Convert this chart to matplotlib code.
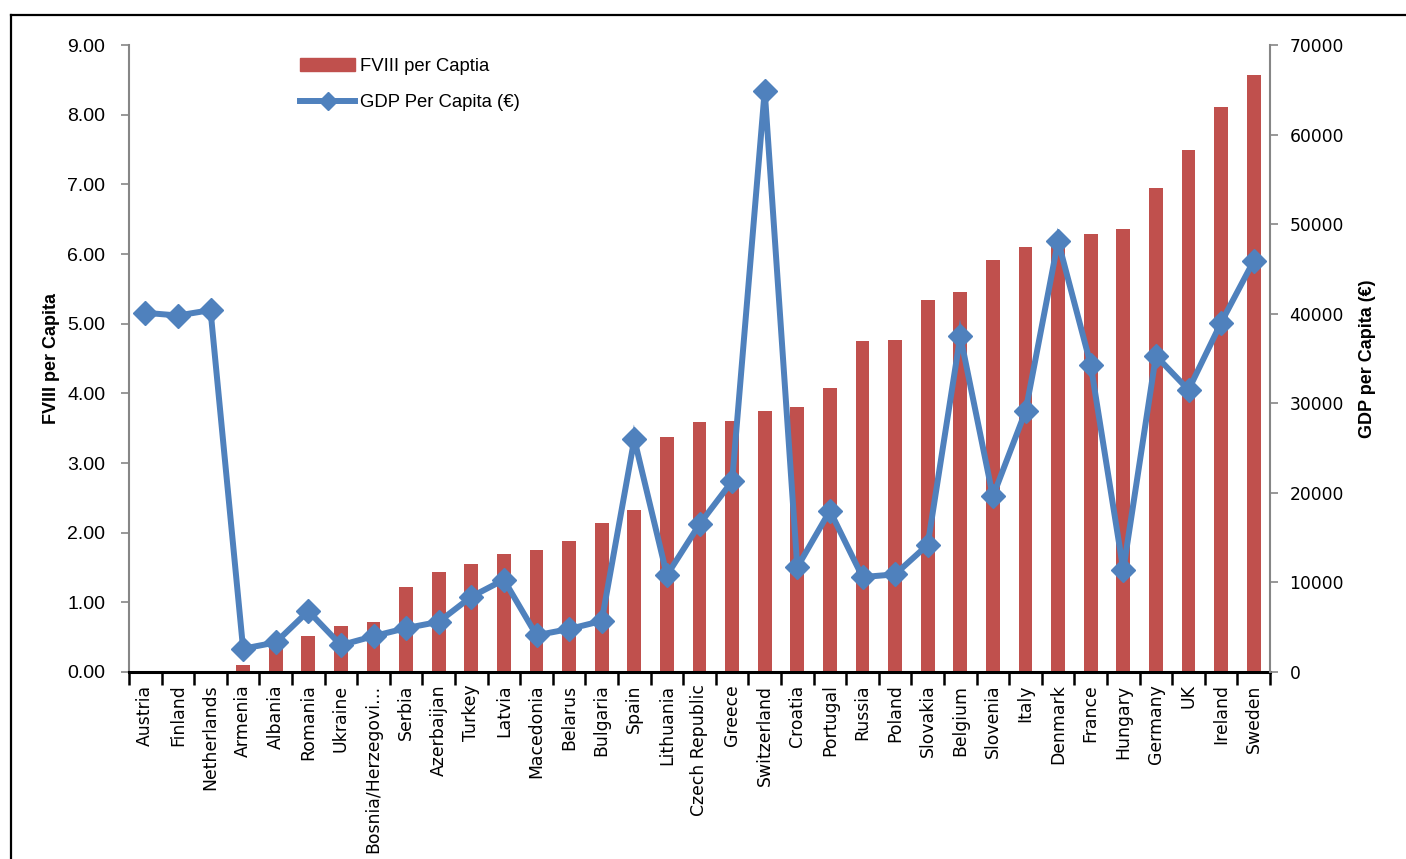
import matplotlib
matplotlib.use("Agg")
import matplotlib.pyplot as plt
from matplotlib.lines import Line2D
from matplotlib.patches import Patch
import numpy as np

countries = ["Austria", "Finland", "Netherlands", "Armenia", "Albania", "Romania", "Ukraine",
             "Bosnia/Herzegovi…", "Serbia", "Azerbaijan", "Turkey", "Latvia", "Macedonia",
             "Belarus", "Bulgaria", "Spain", "Lithuania", "Czech Republic", "Greece",
             "Switzerland", "Croatia", "Portugal", "Russia", "Poland", "Slovakia", "Belgium",
             "Slovenia", "Italy", "Denmark", "France", "Hungary", "Germany", "UK", "Ireland", "Sweden"]
fviii = [0, 0, 0, 0.10, 0.45, 0.52, 0.66, 0.72, 1.22, 1.44, 1.55, 1.69, 1.75, 1.88, 2.14, 2.33,
         3.37, 3.59, 3.60, 3.75, 3.80, 4.08, 4.75, 4.77, 5.34, 5.45, 5.91, 6.10, 6.20, 6.29,
         6.36, 6.95, 7.49, 8.11, 8.57]
gdp = [40100, 39800, 40400, 2600, 3300, 6800, 3000, 4000, 4900, 5600, 8400, 10300, 4100, 4800,
       5700, 26000, 10800, 16500, 21300, 64900, 11700, 18000, 10600, 10900, 14200, 37500, 19600,
       29100, 48100, 34300, 11400, 35300, 31500, 39000, 45900]
left_ticks = [0, 1, 2, 3, 4, 5, 6, 7, 8, 9]
right_ticks = [0, 10000, 20000, 30000, 40000, 50000, 60000, 70000]

RED = "#C0504D"
BLUE = "#4F81BD"
GRAY = "#868686"

W, H = 1406, 859
fig = plt.figure(figsize=(W / 100, H / 100), dpi=100)
ax = fig.add_axes([129 / W, 1 - 672 / H, (1270 - 129) / W, (672 - 45) / H])
ax2 = ax.twinx()

x = np.arange(len(countries))
ax.bar(x, fviii, width=0.42, color=RED, zorder=2)
ax.set_zorder(1)
ax2.set_zorder(2)
ax.patch.set_visible(False)
ax2.plot(x, gdp, color=BLUE, lw=4.3, marker="D", markersize=12, markeredgecolor=BLUE,
         markerfacecolor=BLUE, solid_joinstyle="miter")

ax.set_xlim(-0.5, len(countries) - 0.5)
ax.set_ylim(0, 9)
ax2.set_ylim(0, 70000)

ax.set_yticks(left_ticks)
ax.set_yticklabels([f"{v:.2f}" for v in left_ticks], family="Liberation Sans", fontsize=14)
ax2.set_yticks(right_ticks)
ax2.set_yticklabels([str(v) for v in right_ticks], family="DejaVu Sans", fontsize=12.3)

ax.set_xticks(x)
ax.set_xticklabels(countries, rotation=90, fontsize=12.4, family="DejaVu Sans")
ax.set_xticks(np.arange(-0.5, len(countries)), minor=True)
ax.tick_params(axis="x", which="major", length=0, pad=9)
ax.tick_params(axis="x", which="minor", length=9, width=1.8, color="black", direction="out")
ax.tick_params(axis="y", length=6, width=1.2, color=GRAY, pad=11, direction="out")
ax2.tick_params(axis="y", length=6, width=1.2, color=GRAY, pad=8, direction="out")

for a in (ax, ax2):
    a.spines["top"].set_visible(False)
ax.spines["right"].set_visible(False)
ax.spines["left"].set_color(GRAY)
ax.spines["left"].set_linewidth(1.5)
ax2.spines["left"].set_visible(False)
ax2.spines["bottom"].set_visible(False)
ax2.spines["right"].set_color(GRAY)
ax2.spines["right"].set_linewidth(1.5)
ax.spines["bottom"].set_color("black")
ax.spines["bottom"].set_linewidth(2.2)
ax.spines["bottom"].set_zorder(5)

fig.text(52 / W, 1 - 358 / H, "FVIII per Capita", rotation=90, ha="center", va="center",
         fontsize=13, fontweight="bold", family="Liberation Sans")
fig.text(1367 / W, 1 - 359 / H, "GDP per Capita (€)", rotation=90, ha="center", va="center",
         fontsize=13, fontweight="bold", family="Liberation Sans")

handles = [Patch(color=RED),
           Line2D([0], [0], color=BLUE, lw=4.3, marker="D", markersize=9)]
leg = ax2.legend(handles, ["FVIII per Captia", "GDP Per Capita (€)"], loc="upper left",
                 bbox_to_anchor=(300 / W, 1 - 58 / H), bbox_transform=fig.transFigure,
                 frameon=False, handlelength=3.0, handleheight=0.65, handletextpad=0.25,
                 labelspacing=1.02, borderaxespad=0, borderpad=0,
                 prop={"family": "Liberation Sans", "size": 13.3})

# outer frame of the original graphic
fig.add_artist(Line2D([11 / W, 1], [1 - 15 / H, 1 - 15 / H], color="black", lw=1.6, transform=fig.transFigure))
fig.add_artist(Line2D([11 / W, 11 / W], [0, 1 - 15 / H], color="black", lw=1.6, transform=fig.transFigure))

fig.savefig("out.png", dpi=100)
